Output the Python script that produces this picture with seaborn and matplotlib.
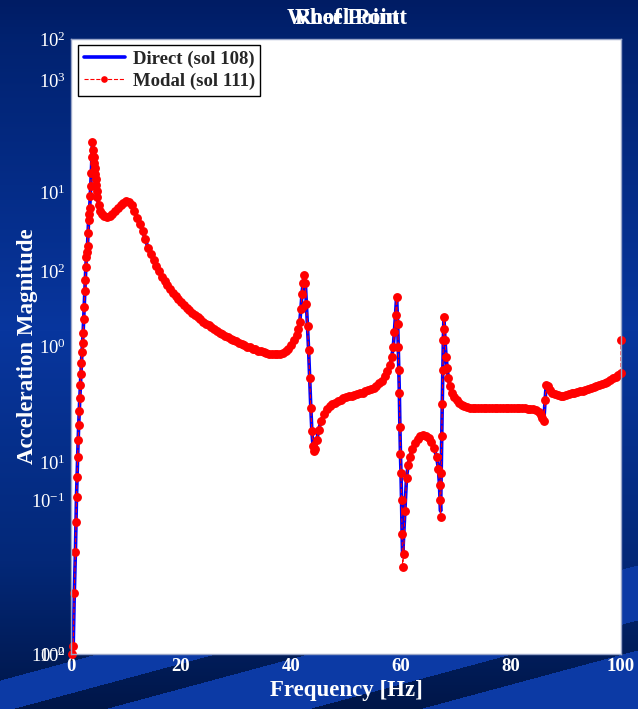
import numpy as np
import matplotlib.pyplot as plt
import seaborn as sns
from matplotlib.ticker import NullLocator

sns.set_style('white')
plt.rcParams['font.family'] = ['Liberation Serif', 'DejaVu Serif']
plt.rcParams['mathtext.fontset'] = 'custom'
plt.rcParams['mathtext.rm'] = 'Liberation Serif'
plt.rcParams['mathtext.it'] = 'Liberation Serif:italic'
plt.rcParams['mathtext.bf'] = 'Liberation Serif:bold'
plt.rcParams['axes.unicode_minus'] = False

# frequency response (Hz, acceleration magnitude)
freq_hz = [
    0.2, 0.4, 0.6, 0.8, 0.9, 1.0, 1.1, 1.2, 1.3, 1.4, 1.5, 1.6, 1.7, 1.8, 1.9,
    2.0, 2.1, 2.2, 2.3, 2.4, 2.5, 2.6, 2.7, 2.8, 2.9, 3.0, 3.1, 3.2, 3.3, 3.4,
    3.5, 3.6, 3.7, 3.8, 3.9, 4.0, 4.1, 4.2, 4.3, 4.4, 4.5, 4.6, 4.7, 4.8, 5.0,
    5.3, 5.6, 6.0, 6.5, 7.0, 7.5, 8.0, 8.5, 9.0, 9.5, 10.0, 10.5, 11.0, 11.5,
    12.0, 12.5, 13.0, 13.5, 14.0, 14.5, 15.0, 15.5, 16.0, 16.5, 17.0, 17.5,
    18.0, 18.5, 19.0, 19.5, 20.0, 20.5, 21.0, 21.5, 22.0, 22.5, 23.0, 23.5,
    24.0, 24.5, 25.0, 25.5, 26.0, 26.5, 27.0, 27.5, 28.0, 28.5, 29.0, 29.5,
    30.0, 30.5, 31.0, 31.5, 32.0, 32.5, 33.0, 33.5, 34.0, 34.5, 35.0, 35.5,
    36.0, 36.5, 37.0, 37.5, 38.0, 38.5, 39.0, 39.5, 40.0, 40.5, 41.0, 41.3,
    41.6, 41.8, 42.0, 42.2, 42.4, 42.6, 42.8, 43.0, 43.2, 43.4, 43.6, 43.8,
    44.0, 44.2, 44.4, 44.7, 45.0, 45.5, 46.0, 46.5, 47.0, 47.5, 48.0, 48.5,
    49.0, 49.5, 50.0, 50.5, 51.0, 51.5, 52.0, 52.5, 53.0, 53.5, 54.0, 54.5,
    55.0, 55.5, 56.0, 56.5, 57.0, 57.5, 58.0, 58.3, 58.6, 58.8, 59.0, 59.2,
    59.4, 59.5, 59.6, 59.7, 59.8, 59.9, 60.0, 60.1, 60.2, 60.3, 60.5, 60.7,
    61.0, 61.3, 61.6, 62.0, 62.5, 63.0, 63.5, 64.0, 64.5, 65.0, 65.5, 66.0,
    66.5, 66.8, 67.0, 67.1, 67.2, 67.3, 67.4, 67.5, 67.6, 67.7, 67.8, 67.9,
    68.0, 68.2, 68.4, 68.6, 68.9, 69.3, 69.7, 70.1, 70.6, 71.0, 71.5, 72.0,
    72.5, 73.0, 73.5, 74.0, 74.5, 75.0, 75.5, 76.0, 76.5, 77.0, 77.5, 78.0,
    78.5, 79.0, 79.5, 80.0, 80.5, 81.0, 81.5, 82.0, 82.5, 83.0, 83.5, 84.0,
    84.5, 85.0, 85.4, 85.7, 86.0, 86.2, 86.4, 86.7, 87.0, 87.5, 88.0, 88.5,
    89.0, 89.5, 90.0, 90.5, 91.0, 91.5, 92.0, 92.5, 93.0, 93.5, 94.0, 94.5,
    95.0, 95.5, 96.0, 96.5, 97.0, 97.5, 98.0, 98.5, 99.0, 99.5, 100.0,
]
direct_mag = [
    0.0100, 0.0113, 0.025, 0.046, 0.072, 0.105, 0.142, 0.19, 0.245, 0.31, 0.38, 0.46, 0.56, 0.66, 0.78,
    0.92, 1.05, 1.22, 1.5, 1.8, 2.3, 2.7, 3.3, 3.8, 4.1, 4.5, 5.5, 6.6, 7.3, 8.0,
    9.5, 11.0, 13.5, 17.0, 21.5, 19.0, 17.0, 15.5, 14.5, 13.2, 12.2, 11.2, 10.2, 9.4, 8.3,
    7.6, 7.3, 7.1, 7.0, 7.1, 7.3, 7.6, 7.9, 8.3, 8.6, 8.8, 8.7, 8.3, 7.6,
    6.9, 6.3, 5.6, 5.0, 4.4, 4.0, 3.65, 3.35, 3.1, 2.85, 2.65, 2.5,
    2.35, 2.22, 2.12, 2.03, 1.94, 1.86, 1.79, 1.72, 1.66, 1.60, 1.55, 1.50,
    1.45, 1.41, 1.37, 1.33, 1.29, 1.26, 1.23, 1.20, 1.17, 1.15, 1.12, 1.10,
    1.08, 1.06, 1.04, 1.02, 1.00, 0.99, 0.97, 0.96, 0.94, 0.93, 0.92, 0.91,
    0.90, 0.895, 0.89, 0.89, 0.895, 0.91, 0.93, 0.97, 1.02, 1.10, 1.18, 1.30,
    1.45, 1.75, 2.2, 2.6, 2.92, 2.6, 1.9, 1.35, 0.95, 0.62, 0.40, 0.28,
    0.225, 0.21, 0.215, 0.245, 0.285, 0.33, 0.365, 0.39, 0.41, 0.42, 0.43, 0.44,
    0.45, 0.46, 0.47, 0.475, 0.48, 0.485, 0.49, 0.495, 0.50, 0.51, 0.52, 0.53,
    0.54, 0.555, 0.575, 0.60, 0.64, 0.69, 0.76, 0.85, 1.00, 1.25, 1.6, 2.1,
    1.4, 1.0, 0.7, 0.5, 0.3, 0.2, 0.15, 0.10, 0.06, 0.043, 0.06, 0.085,
    0.14, 0.17, 0.19, 0.215, 0.235, 0.25, 0.26, 0.265, 0.262, 0.255, 0.24, 0.22,
    0.19, 0.16, 0.125, 0.10, 0.085, 0.15, 0.26, 0.42, 0.7, 1.1, 1.55, 1.3,
    1.1, 0.85, 0.72, 0.62, 0.55, 0.50, 0.47, 0.45, 0.43, 0.415, 0.41, 0.405,
    0.40, 0.40, 0.40, 0.40, 0.40, 0.40, 0.40, 0.40, 0.40, 0.40, 0.40, 0.40,
    0.40, 0.40, 0.40, 0.40, 0.40, 0.40, 0.40, 0.40, 0.40, 0.395, 0.392, 0.39,
    0.385, 0.375, 0.36, 0.345, 0.34, 0.45, 0.56, 0.55, 0.52, 0.50, 0.49, 0.485,
    0.48, 0.48, 0.485, 0.49, 0.495, 0.50, 0.505, 0.51, 0.515, 0.52, 0.53, 0.537,
    0.545, 0.552, 0.56, 0.57, 0.58, 0.592, 0.605, 0.62, 0.635, 0.65, 0.67,
]
# modal solution lies on the direct one except at these points
modal_dev = {60.3: 0.037, 60.5: 0.045, 67.2: 0.078, 86.0: 0.33}
modal_last = (100.0, 1.1)

modal_freq = freq_hz + [modal_last[0]]
modal_mag = [modal_dev.get(f, v) for f, v in zip(freq_hz, direct_mag)] + [modal_last[1]]

left_ticks = [1e-2, 1e-1, 1e0, 1e1, 1e2]
left_ticks_2 = [1, 10, 100, 1000]
x_ticks = [0, 20, 40, 60, 80, 100]

fig = plt.figure(figsize=(6.38, 7.09), dpi=100)

# slide background: navy gradient with lighter diagonal bands at the bottom
H, W = 709, 638
yy, xx = np.mgrid[0:H, 0:W]
g = np.interp(yy, [0, 40, 330, 560, 709], [28, 34, 54, 40, 22])
b = np.interp(yy, [0, 40, 330, 560, 709], [100, 112, 158, 120, 72])
r = np.interp(yy, [0, 330, 709], [0, 8, 0])
c = yy + 0.27 * xx
band = (((c > 680) & (c < 712)) | ((c > 737) & (c < 792)) | ((c > 822) & (c < 905))) & (yy > 560)
g = np.where(band, 58, g)
b = np.where(band, 165, b)
r = np.where(band, 12, r)
img = np.dstack([r, g, b]) / 255.0
bg = fig.add_axes([0, 0, 1, 1], zorder=-1)
bg.imshow(img, aspect='auto')
bg.axis('off')

ax = fig.add_axes([71 / 638, 1 - 654 / 709, 550 / 638, 615 / 709])
ax.set_facecolor('white')

sns.lineplot(x=freq_hz, y=direct_mag, ax=ax, color='#0000ff', linewidth=2.6,
             sort=False, estimator=None, label='Direct (sol 108)')
sns.lineplot(x=modal_freq, y=modal_mag, ax=ax, color='#ff0000', linewidth=0.8,
             linestyle='--', marker='o', markersize=6.4, markeredgewidth=0,
             sort=False, estimator=None, label='Modal (sol 111)', clip_on=False)

ax.set_yscale('log')
ax.set_xlim(0, 100)
ax.set_ylim(1e-2, 1e2)
ax.set_xticks(x_ticks)
ax.set_xticklabels([str(t) for t in x_ticks], fontweight='bold')
ax.set_yticks(left_ticks)
ax.yaxis.set_minor_locator(NullLocator())
ax.tick_params(length=0, colors='white', labelsize=13.5)
ax.tick_params(axis='y', pad=4)
ax.tick_params(axis='x', pad=3)
for s in ax.spines.values():
    s.set_color('#9aa6c8')
    s.set_linewidth(1)

ax.set_xlabel('Frequency [Hz]', color='white', fontsize=16.5, fontweight='bold')
ax.xaxis.set_label_coords(0.5, -0.042)
ax.set_ylabel('Acceleration Magnitude', color='white', fontsize=16.5, fontweight='bold')
ax.yaxis.set_label_coords(-0.06, 0.5)

leg = ax.legend(loc='upper left', bbox_to_anchor=(0.013, 0.99), borderaxespad=0,
                fancybox=False, edgecolor='black', framealpha=1,
                prop={'weight': 'bold', 'size': 13.5}, handlelength=2.2,
                borderpad=0.3, labelspacing=0.25, handletextpad=0.4,
                markerscale=0.75)
leg.get_frame().set_linewidth(1)

# second set of tick labels left over on the slide
ax2 = ax.twinx()
ax2.set_yscale('log')
ax2.set_ylim(1, 1640)
ax2.yaxis.tick_left()
ax2.set_yticks(left_ticks_2)
ax2.yaxis.set_minor_locator(NullLocator())
ax2.tick_params(length=0, colors='white', labelsize=13.5, pad=4)
for s in ax2.spines.values():
    s.set_visible(False)

# two overlapping slide titles
for t in ['Wheel Point', 'Roof Point']:
    fig.text(347 / 638, 1 - 18 / 709, t, color='white', fontsize=16.5,
             fontweight='bold', ha='center', va='center')

fig.savefig('out.png', dpi=100)
